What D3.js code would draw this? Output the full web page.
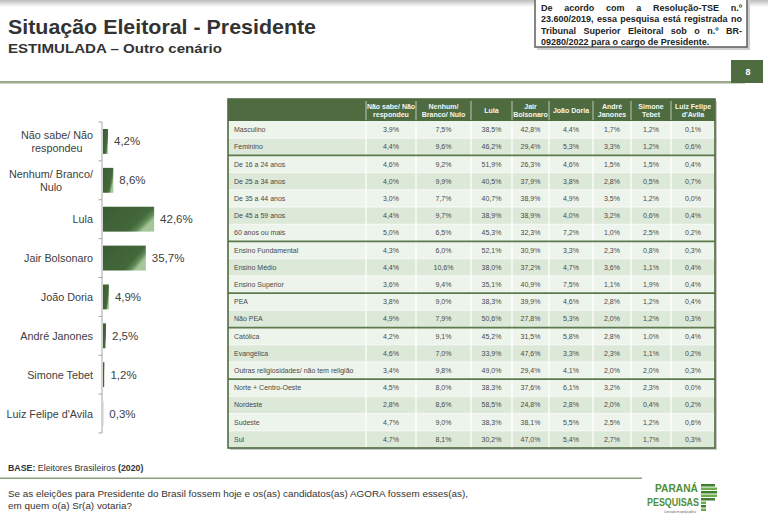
<!DOCTYPE html>
<html><head><meta charset="utf-8">
<script src="https://cdn.jsdelivr.net/npm/d3@7"></script>
<style>body{margin:0;background:#fff} svg{display:block} text{font-family:"Liberation Sans",Arial,sans-serif}</style>
</head><body><svg id="c" width="768" height="530"></svg>
<script>
// ---------- DATA ----------
const candidates = ["Não sabe/ Não respondeu","Nenhum/ Branco/ Nulo","Lula","Jair Bolsonaro","João Doria","André Janones","Simone Tebet","Luiz Felipe d'Avila"];
const chartLabelLines = [["Não sabe/ Não","respondeu"],["Nenhum/ Branco/","Nulo"],["Lula"],["Jair Bolsonaro"],["João Doria"],["André Janones"],["Simone Tebet"],["Luiz Felipe d'Avila"]];
const totals = [4.2, 8.6, 42.6, 35.7, 4.9, 2.5, 1.2, 0.3];
const headerLines = [["Não sabe/ Não","respondeu"],["Nenhum/","Branco/ Nulo"],["Lula"],["Jair","Bolsonaro"],["João Doria"],["André","Janones"],["Simone","Tebet"],["Luiz Felipe","d'Avila"]];
const segments = ["Masculino","Feminino","De 16 a 24 anos","De 25 a 34 anos","De 35 a 44 anos","De 45 a 59 anos","60 anos ou mais","Ensino Fundamental","Ensino Médio","Ensino Superior","PEA","Não PEA","Católica","Evangélica","Outras religiosidades/ não tem religião","Norte + Centro-Oeste","Nordeste","Sudeste","Sul"];
const groupSizes = [2, 5, 3, 2, 3, 4];
const tableValues = [
  [3.9, 7.5, 38.5, 42.8, 4.4, 1.7, 1.2, 0.1],
  [4.4, 9.6, 46.2, 29.4, 5.3, 3.3, 1.2, 0.6],
  [4.6, 9.2, 51.9, 26.3, 4.6, 1.5, 1.5, 0.4],
  [4.0, 9.9, 40.5, 37.9, 3.8, 2.8, 0.5, 0.7],
  [3.0, 7.7, 40.7, 38.9, 4.9, 3.5, 1.2, 0.0],
  [4.4, 9.7, 38.9, 38.9, 4.0, 3.2, 0.6, 0.4],
  [5.0, 6.5, 45.3, 32.3, 7.2, 1.0, 2.5, 0.2],
  [4.3, 6.0, 52.1, 30.9, 3.3, 2.3, 0.8, 0.3],
  [4.4, 10.6, 38.0, 37.2, 4.7, 3.6, 1.1, 0.4],
  [3.6, 9.4, 35.1, 40.9, 7.5, 1.1, 1.9, 0.4],
  [3.8, 9.0, 38.3, 39.9, 4.6, 2.8, 1.2, 0.4],
  [4.9, 7.9, 50.6, 27.8, 5.3, 2.0, 1.2, 0.3],
  [4.2, 9.1, 45.2, 31.5, 5.8, 2.8, 1.0, 0.4],
  [4.6, 7.0, 33.9, 47.6, 3.3, 2.3, 1.1, 0.2],
  [3.4, 9.8, 49.0, 29.4, 4.1, 2.0, 2.0, 0.3],
  [4.5, 8.0, 38.3, 37.6, 6.1, 3.2, 2.3, 0.0],
  [2.8, 8.6, 58.5, 24.8, 2.8, 2.0, 0.4, 0.2],
  [4.7, 9.0, 38.3, 38.1, 5.5, 2.5, 1.2, 0.6],
  [4.7, 8.1, 30.2, 47.0, 5.4, 2.7, 1.7, 0.3]
];
const titleText = "Situação Eleitoral - Presidente";
const subtitleText = "ESTIMULADA – Outro cenário";
const noteLines = ["De acordo com a Resolução-TSE n.º","23.600/2019, essa pesquisa está registrada no","Tribunal Superior Eleitoral sob o n.º BR-","09280/2022 para o cargo de Presidente."];
const pageNumber = "8";
const questionLines = ["Se as eleições para Presidente do Brasil fossem hoje e os(as) candidatos(as) AGORA fossem esses(as),","em quem o(a) Sr(a) votaria?"];

// ---------- RENDER ----------
const W = 768, H = 530;
const svg = d3.select("#c");
const defs = svg.append("defs");
const fmt = v => d3.format(".1f")(v).replace(".", ",") + "%";
const GREEN = "#4f6b40";

function fit(t, w) { t.attr("textLength", w).attr("lengthAdjust", "spacingAndGlyphs"); return t; }

// top shadow
const tg = defs.append("linearGradient").attr("id","topShade").attr("x1",0).attr("y1",0).attr("x2",0).attr("y2",1);
tg.append("stop").attr("offset",0).attr("stop-color","#bdbdbd");
tg.append("stop").attr("offset",1).attr("stop-color","#ffffff");
svg.append("rect").attr("x",0).attr("y",0).attr("width",W).attr("height",7).attr("fill","url(#topShade)");

// title
fit(svg.append("text").attr("x",8).attr("y",34).attr("font-size",21).attr("font-weight","bold").attr("fill","#333").text(titleText), 308);
fit(svg.append("text").attr("x",8).attr("y",53).attr("font-size",13.5).attr("font-weight","bold").attr("fill","#333").text(subtitleText), 214);

// note box
svg.append("rect").attr("x",537).attr("y",-3).attr("width",213).attr("height",53).attr("fill","#cfcfcf");
svg.append("rect").attr("x",535).attr("y",-5).attr("width",212).attr("height",52).attr("fill","#fff").attr("stroke","#666").attr("stroke-width",1.6);
(function(){
  const x0 = 541, x1 = 742, fs = 9;
  noteLines.forEach((ln, i) => {
    const yy = 11 + i * 11.4;
    const words = ln.split(" ");
    const g = svg.append("g");
    const ts = words.map(w => g.append("text").attr("y", yy).attr("font-size", fs).attr("font-weight","bold").attr("fill","#222").text(w));
    const ws = ts.map(t => t.node().getComputedTextLength());
    const total = d3.sum(ws);
    const last = i === noteLines.length - 1;
    let gap = last ? fs * 0.28 : (x1 - x0 - total) / (words.length - 1);
    if (last && x0 + total + gap * (words.length - 1) > x1) gap = (x1 - x0 - total) / (words.length - 1);
    let cx = x0;
    ts.forEach((t, k) => { t.attr("x", cx); cx += ws[k] + gap; });
  });
})();

// page number box and separator line
svg.append("rect").attr("x",0).attr("y",81).attr("width",745).attr("height",2.5).attr("fill","#9aab8c");
svg.append("rect").attr("x",731).attr("y",60).attr("width",32).attr("height",23).attr("fill",GREEN);
svg.append("text").attr("x",748).attr("y",75).attr("text-anchor","middle").attr("font-size",9).attr("font-weight","bold").attr("fill","#fff").text(pageNumber);

// ---------- BAR CHART ----------
const y = d3.scaleBand().domain(candidates).range([122, 433]).paddingInner(0.36).paddingOuter(0.18);
const x = d3.scaleLinear().domain([0, 100]).range([103, 223]);
const bg = defs.append("linearGradient").attr("id","barGrad").attr("x1",0).attr("y1",0).attr("x2",1).attr("y2",0.5);
bg.append("stop").attr("offset",0).attr("stop-color","#3b5c33");
bg.append("stop").attr("offset",0.78).attr("stop-color","#43683a");
bg.append("stop").attr("offset",0.9).attr("stop-color","#5f8a55");
bg.append("stop").attr("offset",1).attr("stop-color","#a5c69b");

const chart = svg.append("g");
chart.append("line").attr("x1",102).attr("x2",102).attr("y1",122).attr("y2",433).attr("stroke","#a6a6a6").attr("stroke-width",1);
const bounds = d3.range(candidates.length + 1).map(i => 122 + i * y.step());
chart.selectAll("line.tick").data(bounds).join("line").attr("class","tick")
  .attr("x1",98.5).attr("x2",102).attr("y1",d=>d).attr("y2",d=>d).attr("stroke","#a6a6a6");
chart.selectAll("rect.bar").data(candidates).join("rect").attr("class","bar")
  .attr("x", x(0)).attr("y", d => y(d)).attr("height", y.bandwidth())
  .attr("width", (d,i) => x(totals[i]) - x(0)).attr("fill","url(#barGrad)");
chart.selectAll("text.val").data(candidates).join("text").attr("class","val")
  .attr("x", (d,i) => x(totals[i]) + 6).attr("y", d => y(d) + y.bandwidth()/2 + 4)
  .attr("font-size", 11.5).attr("fill","#404040").text((d,i) => fmt(totals[i]));
candidates.forEach((c, i) => {
  const lines = chartLabelLines[i];
  const cy = y(c) + y.bandwidth()/2;
  const lh = 13.5;
  const g = chart.append("g");
  const ts = lines.map((ln, k) => g.append("text").attr("y", cy + 4 + (k - (lines.length-1)/2) * lh)
      .attr("font-size", 10.8).attr("fill","#404040").attr("text-anchor","middle").text(ln));
  const maxW = d3.max(ts, t => t.node().getComputedTextLength());
  ts.forEach(t => t.attr("x", 93 - maxW/2));
});

// ---------- TABLE ----------
const colEdges = [228, 366, 416, 471, 512, 549, 593, 631, 671, 715];
const cols = d3.range(candidates.length);
const colX = d3.scaleOrdinal().domain(cols).range(cols.map(i => colEdges[i+1]));
const colW = i => colEdges[i+2] - colEdges[i+1];
const rowY = d3.scaleBand().domain(segments).range([121, 448]);
const tbl = svg.append("g");
const tTop = 99, tBot = 448, tL = colEdges[0], tR = colEdges[colEdges.length-1];
tbl.append("rect").attr("x",tL+2).attr("y",tTop+2).attr("width",tR-tL).attr("height",tBot-tTop).attr("fill","#c9c9c9");
tbl.append("rect").attr("x",tL).attr("y",tTop).attr("width",tR-tL).attr("height",121-tTop).attr("fill",GREEN);
const groupStart = [];
let acc = 0; groupSizes.forEach(n => { groupStart.push(acc); acc += n; });
const shadeIdx = segments.map((s, i) => { const gi = d3.bisectRight(groupStart, i) - 1; return (i - groupStart[gi]) % 2; });
tbl.selectAll("rect.row").data(segments).join("rect").attr("class","row")
  .attr("x", tL).attr("y", d => rowY(d)).attr("width", tR - tL).attr("height", rowY.bandwidth())
  .attr("fill", (d,i) => shadeIdx[i] ? "#dce8d8" : "#edf4eb");
tbl.selectAll("line.vsep").data(colEdges.slice(1, -1)).join("line").attr("class","vsep")
  .attr("x1", d=>d).attr("x2", d=>d).attr("y1", 121).attr("y2", tBot).attr("stroke","#ffffff").attr("stroke-width",1.2);
tbl.selectAll("line.hsep").data(colEdges.slice(1, -1)).join("line").attr("class","hsep")
  .attr("x1", d=>d).attr("x2", d=>d).attr("y1", 101).attr("y2", 120).attr("stroke","#d9e2d4").attr("stroke-width",0.8);
tbl.selectAll("line.rsep").data(segments.slice(1)).join("line").attr("class","rsep")
  .attr("x1", tL).attr("x2", tR).attr("y1", d => rowY(d)).attr("y2", d => rowY(d)).attr("stroke","#ffffff").attr("stroke-width",0.8);
tbl.selectAll("line.gsep").data(groupStart.slice(1)).join("line").attr("class","gsep")
  .attr("x1", tL).attr("x2", tR).attr("y1", d => rowY(segments[d])).attr("y2", d => rowY(segments[d]))
  .attr("stroke","#5c7a4d").attr("stroke-width",1.8);
headerLines.forEach((lines, i) => {
  const cx = colX(i) + colW(i)/2;
  lines.forEach((ln, k) => {
    tbl.append("text").attr("x", cx).attr("y", 110 + 2.6 + (k - (lines.length-1)/2) * 8)
      .attr("text-anchor","middle").attr("font-size",7).attr("font-weight","bold").attr("fill","#f4f7f2").text(ln);
  });
});
tbl.selectAll("text.seg").data(segments).join("text").attr("class","seg")
  .attr("x", tL + 6).attr("y", d => rowY(d) + rowY.bandwidth()/2 + 2.5)
  .attr("font-size", 7).attr("fill","#4a4a4a").text(d => d);
segments.forEach((s, r) => {
  tbl.selectAll(null).data(tableValues[r]).join("text")
    .attr("x", (d,i) => colX(i) + colW(i)/2).attr("y", rowY(s) + rowY.bandwidth()/2 + 2.5)
    .attr("text-anchor","middle").attr("font-size", 7).attr("fill","#4a4a4a").text(d => fmt(d));
});
tbl.append("rect").attr("x",tL).attr("y",tTop).attr("width",tR-tL).attr("height",tBot-tTop)
  .attr("fill","none").attr("stroke",GREEN).attr("stroke-width",1.6);

// ---------- FOOTER ----------
const base = svg.append("text").attr("x",8).attr("y",471).attr("font-size",8.8).attr("fill","#333");
base.append("tspan").attr("font-weight","bold").text("BASE:");
base.append("tspan").text(" Eleitores Brasileiros ");
base.append("tspan").attr("font-weight","bold").text("(2020)");
svg.append("rect").attr("x",0).attr("y",477.5).attr("width",642).attr("height",1.5).attr("fill","#8c9e7c");
questionLines.forEach((ln, i) => {
  svg.append("text").attr("x",8).attr("y",497 + i * 12).attr("font-size",9.9).attr("fill","#333").text(ln);
});

// logo
const logo = svg.append("g");
fit(logo.append("text").attr("x",655).attr("y",492).attr("font-size",10.5).attr("font-weight","bold").attr("fill","#4e8f3a").text("PARANÁ"), 43);
fit(logo.append("text").attr("x",647).attr("y",505.5).attr("font-size",10.5).attr("font-weight","bold").attr("fill","#4e8f3a").text("PESQUISAS"), 52);
fit(logo.append("text").attr("x",664).attr("y",513).attr("font-size",2.6).attr("fill","#555").text("Conectado em opinião pública"), 32);
const stripes = [14, 16, 16, 16, 14, 5, 5, 5];
stripes.forEach((w, i) => {
  logo.append("rect").attr("x",701).attr("y",484 + i*3.5).attr("width",w).attr("height",2.5)
    .attr("fill", i % 2 ? "#6fae4e" : "#3f7f30");
});
</script></body></html>
